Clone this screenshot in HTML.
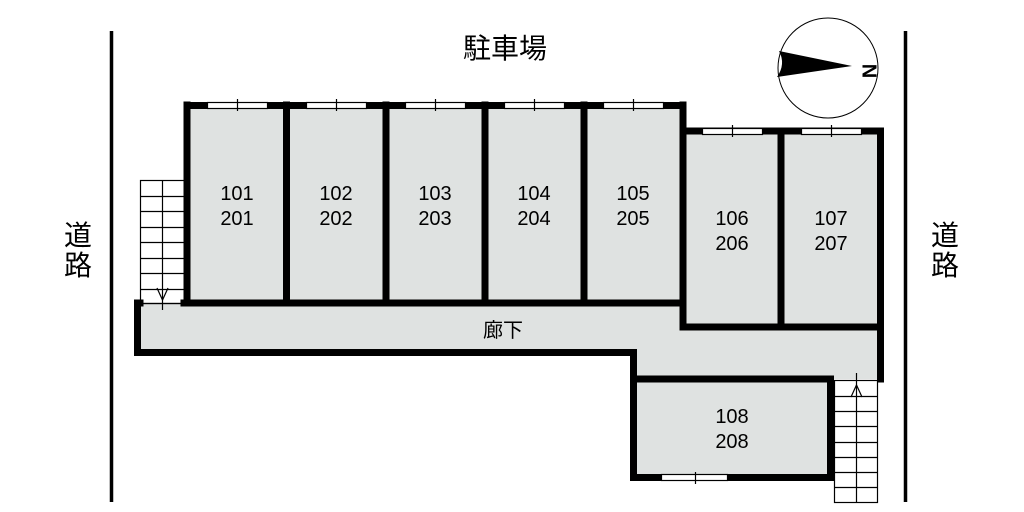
<!DOCTYPE html>
<html><head><meta charset="utf-8"><style>
html,body{margin:0;padding:0;background:#fff;width:1024px;height:512px;overflow:hidden}
svg{display:block}
text{font-family:"Liberation Sans","Noto Sans CJK JP",sans-serif;fill:#000}
</style></head><body>
<svg width="1024" height="512" viewBox="0 0 1024 512" xmlns="http://www.w3.org/2000/svg">
<!-- floors -->
<g fill="#dfe2e1">
<rect x="187" y="105" width="496" height="200"/>
<rect x="683" y="131" width="197" height="196"/>
<rect x="137" y="303" width="743" height="50"/>
<rect x="633" y="327" width="247" height="52"/>
<rect x="633" y="379" width="197" height="98"/>
</g>
<!-- stairs -->
<g stroke="#000" stroke-width="1.2" fill="#fff">
<rect x="140.5" y="180.5" width="44" height="123"/>
<rect x="834.5" y="380.5" width="43" height="122"/>
</g>
<g stroke="#000" stroke-width="1.2">
<line x1="162.5" y1="180" x2="162.5" y2="310"/>
<line x1="140" y1="196.5" x2="184" y2="196.5"/><line x1="140" y1="211.5" x2="184" y2="211.5"/>
<line x1="140" y1="227.5" x2="184" y2="227.5"/><line x1="140" y1="242.5" x2="184" y2="242.5"/>
<line x1="140" y1="258.5" x2="184" y2="258.5"/><line x1="140" y1="273.5" x2="184" y2="273.5"/>
<line x1="140" y1="289.5" x2="184" y2="289.5"/>
<line x1="142" y1="303.5" x2="184" y2="303.5"/>
<polyline points="157,288 162.5,300 168,288" fill="none"/>
<line x1="856.5" y1="373" x2="856.5" y2="502"/>
<line x1="834" y1="396.5" x2="877" y2="396.5"/><line x1="834" y1="411.5" x2="877" y2="411.5"/>
<line x1="834" y1="426.5" x2="877" y2="426.5"/><line x1="834" y1="442.5" x2="877" y2="442.5"/>
<line x1="834" y1="457.5" x2="877" y2="457.5"/><line x1="834" y1="472.5" x2="877" y2="472.5"/>
<line x1="834" y1="487.5" x2="877" y2="487.5"/>
<polyline points="851,397 856.5,385 862,397" fill="none"/>
</g>
<!-- walls -->
<g stroke="#000" stroke-width="7" fill="none" stroke-linecap="square">
<line x1="187" y1="105.5" x2="683" y2="105.5"/>
<line x1="683" y1="131" x2="880.5" y2="131"/>
<line x1="187" y1="105" x2="187" y2="303"/>
<line x1="286.5" y1="105" x2="286.5" y2="303"/>
<line x1="386" y1="105" x2="386" y2="303"/>
<line x1="485" y1="105" x2="485" y2="303"/>
<line x1="584" y1="105" x2="584" y2="303"/>
<line x1="683" y1="105" x2="683" y2="327"/>
<line x1="781" y1="131" x2="781" y2="327"/>
<line x1="880.5" y1="131" x2="880.5" y2="379"/>
<line x1="683" y1="327" x2="880" y2="327"/>
<line x1="184" y1="303" x2="683" y2="303"/>
<line x1="137.5" y1="303" x2="140" y2="303"/>
<line x1="137.5" y1="303" x2="137.5" y2="352.5"/>
<line x1="137.5" y1="352.5" x2="633.5" y2="352.5"/>
<line x1="633.5" y1="352.5" x2="633.5" y2="477.5"/>
<line x1="633.5" y1="379" x2="830.5" y2="379"/>
<line x1="830.5" y1="379" x2="830.5" y2="477.5"/>
<line x1="633.5" y1="477.5" x2="830.5" y2="477.5"/>
</g>
<!-- windows -->
<g fill="#fff" stroke="#000" stroke-width="1.2">
<rect x="207.5" y="102.5" width="60" height="6"/>
<rect x="306.5" y="102.5" width="60" height="6"/>
<rect x="405.5" y="102.5" width="60" height="6"/>
<rect x="504.5" y="102.5" width="60" height="6"/>
<rect x="603.5" y="102.5" width="60" height="6"/>
<rect x="702.5" y="128.5" width="60" height="6"/>
<rect x="801.5" y="128.5" width="60" height="6"/>
<rect x="661.5" y="474.5" width="66" height="6"/>
</g>
<g stroke="#000" stroke-width="1.2">
<line x1="237.5" y1="99" x2="237.5" y2="111"/><line x1="336.5" y1="99" x2="336.5" y2="111"/>
<line x1="435.5" y1="99" x2="435.5" y2="111"/><line x1="534.5" y1="99" x2="534.5" y2="111"/>
<line x1="633.5" y1="99" x2="633.5" y2="111"/><line x1="732.5" y1="125" x2="732.5" y2="137"/>
<line x1="831.5" y1="125" x2="831.5" y2="137"/><line x1="695.5" y1="472" x2="695.5" y2="484"/>
</g>
<!-- roads -->
<line x1="111.5" y1="31" x2="111.5" y2="502" stroke="#000" stroke-width="3.5"/>
<line x1="905.5" y1="31" x2="905.5" y2="502" stroke="#000" stroke-width="3.5"/>
<!-- compass -->
<circle cx="828" cy="68" r="50" fill="#fff" stroke="#000" stroke-width="1"/>
<path d="M779,51 L852,66 L777,77 Q786,64 779,51 Z" fill="#000"/>
<text x="868" y="71" font-size="20" font-family="Liberation Serif,serif" font-weight="bold" text-anchor="middle" dominant-baseline="middle" transform="rotate(90 868 71)">N</text>
<!-- labels -->
<g font-size="20" text-anchor="middle">
<text x="237" y="200">101</text><text x="237" y="225">201</text>
<text x="336" y="200">102</text><text x="336" y="225">202</text>
<text x="435" y="200">103</text><text x="435" y="225">203</text>
<text x="534" y="200">104</text><text x="534" y="225">204</text>
<text x="633" y="200">105</text><text x="633" y="225">205</text>
<text x="732" y="225">106</text><text x="732" y="250">206</text>
<text x="831" y="225">107</text><text x="831" y="250">207</text>
<text x="732" y="423">108</text><text x="732" y="448">208</text>
<text x="503" y="337">廊下</text>
</g>
<g font-size="28" text-anchor="middle">
<text x="505" y="58">駐車場</text>
<text x="78" y="245">道</text><text x="78" y="275">路</text>
<text x="945" y="245">道</text><text x="945" y="275">路</text>
</g>
</svg>
</body></html>
